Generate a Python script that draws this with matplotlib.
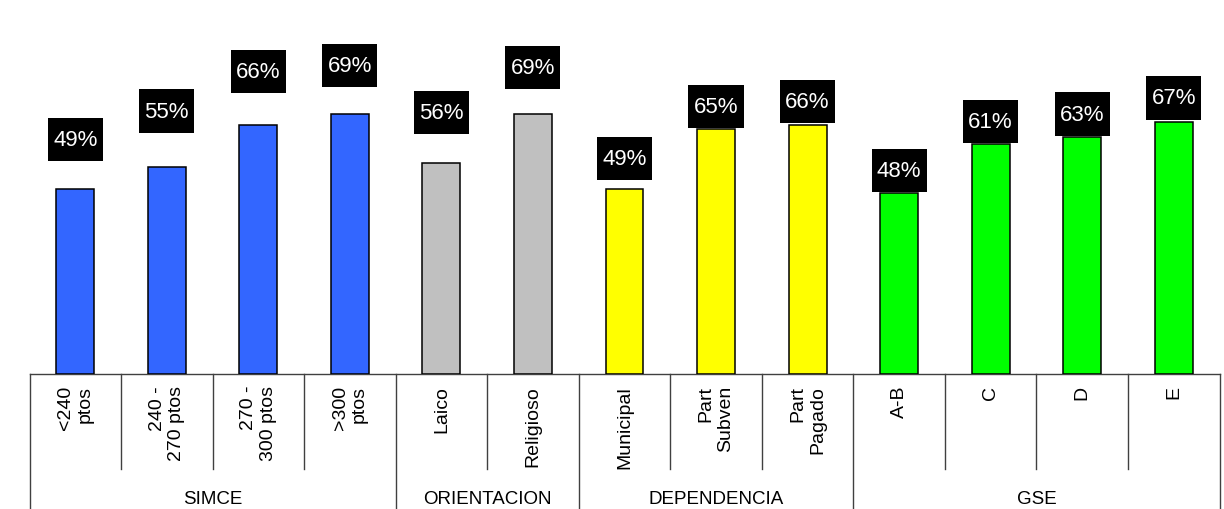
import matplotlib
matplotlib.use("Agg")
import matplotlib.pyplot as plt
import matplotlib.transforms as mtransforms
from matplotlib.path import Path
import numpy as np

plt.rcParams['font.family'] = ['Liberation Sans', 'DejaVu Sans']

# datos
categorias = ['<240\nptos', '240 -\n270 ptos', '270 -\n300 ptos', '>300\nptos',
              'Laico', 'Religioso',
              'Municipal', 'Part\nSubven', 'Part\nPagado',
              'A-B', 'C', 'D', 'E']
valores = [49, 55, 66, 69, 56, 69, 49, 65, 66, 48, 61, 63, 67]
grupos = ['SIMCE', 'ORIENTACION', 'DEPENDENCIA', 'GSE']
tam_grupos = [4, 2, 3, 4]
colores_grupo = ['#3366FF', '#C0C0C0', '#FFFF00', '#00FF00']

# separacion (px) entre la barra y su etiqueta, como en el original
sep_etiqueta = [28, 34, 32, 27, 29, 25, 9, 1, 2, 1, 1, 1, 2]

W, H = 1224, 510
fig = plt.figure(figsize=(W / 100, H / 100), dpi=100)
base_px = 374.5
ax = fig.add_axes([29.5 / W, (H - base_px) / H, (1219.5 - 29.5) / W, base_px / H])

x = np.arange(len(valores))
colores = []
for g, n in enumerate(tam_grupos):
    colores += [colores_grupo[g]] * n

ax.bar(x, valores, width=0.415, color=colores, edgecolor='black', linewidth=1.1, zorder=3)
ax.set_xlim(-0.5, len(valores) - 0.5)
ax.set_ylim(0, base_px / 3.76)

# caja negra con mas relleno vertical que horizontal
PADX, PADY = 0.24, 0.50


def caja(x0, y0, width, height, mutation_size):
    px = PADX * mutation_size
    py = PADY * mutation_size
    x0, y0 = x0 - px, y0 - py
    x1, y1 = x0 + width + 2 * px, y0 + height + 2 * py
    return Path([(x0, y0), (x1, y0), (x1, y1), (x0, y1), (x0, y0)], closed=True)


fs_lab = 16
pady_px = PADY * fs_lab * 100 / 72
for xi, v, s in zip(x, valores, sep_etiqueta):
    ax.annotate(f'{v}%', (xi, v), xytext=(0, s + pady_px), textcoords='offset pixels',
                ha='center', va='bottom', color='white', fontsize=fs_lab,
                bbox=dict(boxstyle=caja, fc='black', ec='none'), zorder=5)

for sp in ['top', 'right', 'left']:
    ax.spines[sp].set_visible(False)
ax.spines['bottom'].set_color('#404040')
ax.spines['bottom'].set_linewidth(1.0)
ax.set_xticks([])
ax.set_yticks([])

# zona de rotulos bajo el eje
tr = mtransforms.blended_transform_factory(ax.transData, ax.transAxes)
y_corto = -(470 - base_px) / base_px
y_largo = -(H - base_px) / base_px
limites = np.cumsum([0] + tam_grupos) - 0.5
for b in np.arange(len(valores) + 1) - 0.5:
    y_fin = y_largo if b in limites else y_corto
    ax.plot([b, b], [0, y_fin], transform=tr, color='#404040', lw=1.0, clip_on=False)

y_cat = -(386 - base_px) / base_px
for xi, c in zip(x, categorias):
    ax.text(xi, y_cat, c, transform=tr, rotation=90, ha='center', va='top',
            multialignment='right', fontsize=14, color='black')

y_grp = -(499 - base_px) / base_px
for g, nombre in enumerate(grupos):
    centro = (limites[g] + limites[g + 1]) / 2
    ax.text(centro, y_grp, nombre, transform=tr, ha='center', va='center',
            fontsize=13.5, color='black')

fig.savefig('out.png', dpi=100)
